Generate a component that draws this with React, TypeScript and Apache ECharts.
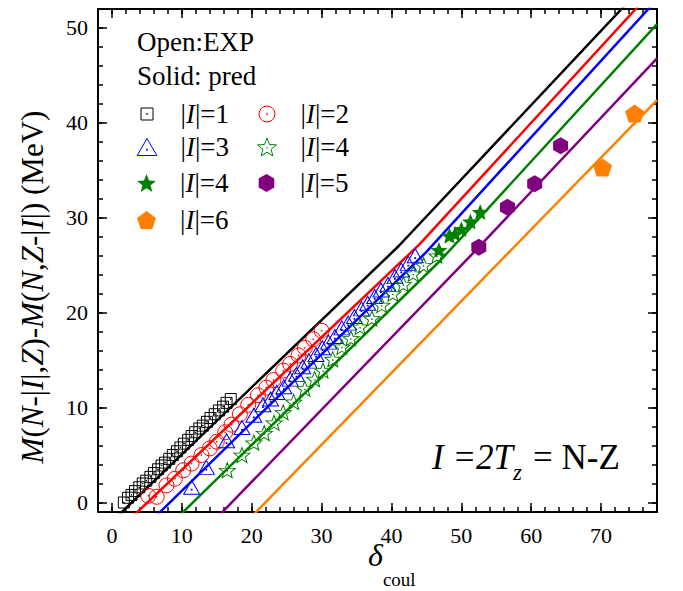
import React, { useEffect, useRef } from "react";
import * as echarts from "echarts";

const FONT = "Liberation Serif";

// axis ranges and ticks
const xRange = [-2, 78];
const yRange = [-1, 52];
const xMajorTicks = [0, 10, 20, 30, 40, 50, 60, 70];
const xMinorTicks = [0, 2, 4, 6, 8, 10, 12, 14, 16, 18, 20, 22, 24, 26, 28, 30, 32, 34, 36, 38, 40, 42, 44, 46, 48, 50, 52, 54, 56, 58, 60, 62, 64, 66, 68, 70, 72, 74, 76];
const yMajorTicks = [0, 10, 20, 30, 40, 50];
const yMinorTicks = [0, 2, 4, 6, 8, 10, 12, 14, 16, 18, 20, 22, 24, 26, 28, 30, 32, 34, 36, 38, 40, 42, 44, 46, 48, 50];

// experimental (open) points [delta_coul, mass difference]
const expI1: [number, number][] = [
  [1.7, 0.0], [2.3, 0.5], [2.8, 0.8], [3.3, 1.2], [3.9, 1.6], [4.4, 2.0], [4.9, 2.3], [5.5, 2.7], [6.0, 3.1], [6.6, 3.5],
  [7.1, 3.9], [7.6, 4.2], [8.2, 4.6], [8.7, 5.0], [9.3, 5.4], [9.8, 5.8], [10.3, 6.2], [10.9, 6.6], [11.4, 7.0], [11.9, 7.4],
  [12.5, 7.8], [13.0, 8.1], [13.6, 8.5], [14.1, 8.9], [14.7, 9.3], [15.3, 9.7], [15.9, 10.1], [16.4, 10.5], [17.0, 10.9],
];
const expI2: [number, number][] = [
  [5.2, 0.7], [6.4, 0.6], [7.8, 1.8], [9.0, 2.5], [10.2, 3.4], [11.4, 4.1], [12.8, 5.0], [14.0, 5.7], [15.0, 6.4], [16.2, 7.4],
  [17.1, 8.2], [18.3, 9.3], [19.5, 10.3], [20.9, 11.3], [22.1, 12.1], [23.1, 12.9], [24.5, 13.9], [25.5, 14.6], [26.7, 15.5],
  [27.6, 16.3], [28.8, 17.2], [30.0, 18.1],
];
const expI3: [number, number][] = [
  [11.4, 1.6], [13.5, 3.7], [16.4, 6.5], [18.6, 7.9], [20.3, 9.2], [21.6, 10.3], [22.7, 10.9], [23.6, 11.6], [24.6, 12.2],
  [25.5, 13.0], [26.4, 13.5], [27.3, 14.3], [28.2, 14.9], [29.2, 15.6], [30.1, 16.3], [31.0, 16.9], [31.9, 17.5], [32.9, 18.4],
  [33.8, 18.9], [34.7, 19.6], [35.7, 20.4], [36.6, 21.0], [37.6, 21.7], [38.5, 22.4], [39.5, 23.0], [40.5, 23.8], [41.4, 24.5],
  [42.4, 25.2], [43.4, 26.0],
];
const expI4: [number, number][] = [
  [16.5, 3.4], [18.6, 5.0], [20.3, 6.3], [21.8, 7.3], [23.2, 8.4], [24.5, 9.5], [26.0, 10.6], [27.6, 12.0], [29.0, 13.0],
  [30.2, 13.9], [31.6, 15.1], [32.9, 16.4], [34.2, 17.3], [35.5, 18.5], [37.2, 19.4], [38.6, 20.8], [40.2, 22.0], [41.7, 23.0],
  [43.1, 24.1], [44.6, 25.0], [46.5, 26.0],
];
// predicted (solid) points
const predI4: [number, number][] = [[46.8, 26.6], [48.3, 28.1], [49.1, 28.3], [50.0, 28.8], [51.3, 29.6], [52.7, 30.6]];
const predI5: [number, number][] = [[52.5, 26.9], [56.6, 31.1], [60.5, 33.6], [64.2, 37.6]];
const predI6: [number, number][] = [[70.2, 35.3], [74.8, 41.0]];

// prediction curves
const lineI1: [number, number][] = [[0.0, -2], [41.0, 27.0], [74.2, 53]];
const lineI2: [number, number][] = [[2.2, -2], [44.0, 27.2], [76.2, 53]];
const lineI3: [number, number][] = [[5.5, -2], [45.0, 26.4], [78.0, 53.0]];
const lineI4: [number, number][] = [[8.8, -2], [47.0, 25.5], [78.0, 50.4]];
const lineI5: [number, number][] = [[14.5, -2], [52.5, 26.9], [78.0, 46.8]];
const lineI6: [number, number][] = [[19.3, -2], [78.0, 42.4]];

const SQUARE = "path://M0,0H10V10H0Z M4.7,4.7H5.3V5.3H4.7Z";
const CIRCLE = "path://M10,5A5,5,0,1,1,0,5A5,5,0,1,1,10,5Z M4.75,4.75H5.25V5.25H4.75Z";
const TRIANGLE = "path://M5,0L10,8.66L0,8.66Z M4.75,5.5H5.25V6H4.75Z";
const STAR_PTS = "M0,-10L2.53,-3.48L9.51,-3.09L4.09,1.33L5.88,8.09L0,4.3L-5.88,8.09L-4.09,1.33L-9.51,-3.09L-2.53,-3.48Z";
const STAR_OPEN = "path://" + STAR_PTS + " M-0.25,-0.25H0.25V0.25H-0.25Z";
const STAR_FILLED = "path://" + STAR_PTS;
const HEXAGON = "path://M0,-10L8.66,-5L8.66,5L0,10L-8.66,5L-8.66,-5Z";
const PENTAGON = "path://M0,-10L9.51,-3.09L5.88,8.09L-5.88,8.09L-9.51,-3.09Z";

const GRID = { left: 98, top: 9, width: 559, height: 503 };

function makeX(gridIndex: number, position: string, ticks: number[], len: number, labels: boolean, line: boolean) {
  return {
    type: "value", gridIndex, position, min: xRange[0], max: xRange[1],
    axisLine: { show: line, onZero: false, lineStyle: { color: "#000", width: 2 } },
    axisTick: { show: true, inside: true, length: len, customValues: ticks, lineStyle: { color: "#000", width: 1.5 } },
    axisLabel: labels
      ? { show: true, customValues: ticks, margin: 12, color: "#000", fontSize: 22, fontFamily: FONT }
      : { show: false },
    splitLine: { show: false },
  };
}
function makeY(gridIndex: number, position: string, ticks: number[], len: number, labels: boolean, line: boolean) {
  return {
    type: "value", gridIndex, position, min: yRange[0], max: yRange[1],
    axisLine: { show: line, onZero: false, lineStyle: { color: "#000", width: 2 } },
    axisTick: { show: true, inside: true, length: len, customValues: ticks, lineStyle: { color: "#000", width: 1.5 } },
    axisLabel: labels
      ? { show: true, customValues: ticks, margin: 10, color: "#000", fontSize: 22, fontFamily: FONT }
      : { show: false },
    splitLine: { show: false },
  };
}

const legendFormatter = (name: string) => {
  const d = (name.match(/\d/) || ["1"])[0];
  return `{n||}{i|I}{n||=${d}}`;
};
const legendText = {
  color: "#000", fontSize: 27, fontFamily: FONT, lineHeight: 30,
  rich: {
    n: { color: "#000", fontSize: 27, fontFamily: FONT, lineHeight: 30 },
    i: { color: "#000", fontSize: 27, fontFamily: FONT, fontStyle: "italic", lineHeight: 30 },
  },
};
// [series name, icon centre x, icon centre y, icon height, icon drawn width, border]
const legendSpec: [string, number, number, number, number, number][] = [
  ["|I|=1", 146.5, 114, 12, 12, 1],
  ["|I|=2", 266.5, 114, 16, 16, 1],
  ["|I|=3", 146.5, 147, 17, 19.6, 1],
  ["|I|=4", 266.5, 147, 18, 18.9, 1],
  ["|I|=4 (pred)", 146.5, 183, 18, 18.9, 0],
  ["|I|=5", 266.5, 183, 18, 15.6, 0],
  ["|I|=6", 146.5, 220, 18, 18.9, 0],
];

function openSeries(name: string, data: [number, number][], symbol: string, size: number | number[], color: string) {
  return {
    type: "scatter", name, data, symbol, symbolSize: size, z: 3,
    itemStyle: { color: "rgba(0,0,0,0)", borderColor: color, borderWidth: 1, opacity: 1 },
  };
}
function solidSeries(name: string, data: [number, number][], symbol: string, size: number | number[], color: string) {
  return {
    type: "scatter", name, data, symbol, symbolSize: size, z: 4,
    itemStyle: { color, borderWidth: 0, opacity: 1 },
  };
}
function lineSeries(name: string, data: [number, number][], color: string) {
  return {
    type: "line", name, data, showSymbol: false, symbol: "none", z: 2, silent: true,
    lineStyle: { color, width: 2.5 }, clip: true,
  };
}

const yTitle =
  "{i|M}{n|(}{i|N}{n|-|}{i|I}{n||,}{i|Z}{n|)-}{i|M}{n|(}{i|N}{n|,}{i|Z}{n|-|}{i|I}{n||) (MeV)}";

const textBase = { fill: "#000", fontFamily: FONT, align: "left", verticalAlign: "middle", textAlign: "left", textVerticalAlign: "middle" };

const option: any = {
  animation: false,
  backgroundColor: "#fff",
  textStyle: { fontFamily: FONT },
  grid: [{ ...GRID }, { ...GRID }],
  xAxis: [
    makeX(0, "bottom", xMajorTicks, 9, true, true),
    makeX(0, "top", xMajorTicks, 9, false, true),
    makeX(1, "bottom", xMinorTicks, 5, false, false),
    makeX(1, "top", xMinorTicks, 5, false, false),
  ],
  yAxis: [
    makeY(0, "left", yMajorTicks, 9, true, true),
    makeY(0, "right", yMajorTicks, 9, false, true),
    makeY(1, "left", yMinorTicks, 5, false, false),
    makeY(1, "right", yMinorTicks, 5, false, false),
  ],
  legend: legendSpec.map(([name, cx, cy, h, w, bw]) => ({
    data: [name],
    left: cx - w / 2,
    top: cy - 15,
    padding: 0,
    itemWidth: 57,
    itemHeight: h,
    selectedMode: false,
    itemStyle: { borderWidth: bw },
    formatter: legendFormatter,
    textStyle: legendText,
  })),
  series: [
    lineSeries("pred |I|=1", lineI1, "#000000"),
    lineSeries("pred |I|=2", lineI2, "#ff0000"),
    lineSeries("pred |I|=3", lineI3, "#0000ff"),
    lineSeries("pred |I|=4", lineI4, "#008000"),
    lineSeries("pred |I|=5", lineI5, "#800080"),
    lineSeries("pred |I|=6", lineI6, "#ff8000"),
    openSeries("|I|=1", expI1, SQUARE, 11, "#000000"),
    openSeries("|I|=2", expI2, CIRCLE, 15, "#ff0000"),
    openSeries("|I|=3", expI3, TRIANGLE, [16, 14], "#0000ff"),
    openSeries("|I|=4", expI4, STAR_OPEN, [16, 15], "#008000"),
    solidSeries("|I|=4 (pred)", predI4, STAR_FILLED, [17, 16], "#008000"),
    solidSeries("|I|=5", predI5, HEXAGON, [15, 17], "#800080"),
    solidSeries("|I|=6", predI6, PENTAGON, [19, 18], "#ff8000"),
  ],
  graphic: [
    { type: "text", x: 137, y: 42, style: { ...textBase, text: "Open:EXP", fontSize: 27 } },
    { type: "text", x: 137, y: 76, style: { ...textBase, text: "Solid: pred", fontSize: 27 } },
    { type: "text", x: 432, y: 457, style: { ...textBase, text: "I =2T", fontSize: 35, fontStyle: "italic" } },
    { type: "text", x: 513, y: 472, style: { ...textBase, text: "z", fontSize: 23, fontStyle: "italic" } },
    { type: "text", x: 533, y: 457, style: { ...textBase, text: "= N-Z", fontSize: 35 } },
    {
      type: "text", x: 368, y: 539,
      style: {
        text: "{d|δ}{c|coul}",
        fill: "#000", fontSize: 32, fontFamily: FONT,
        align: "left", verticalAlign: "top", textAlign: "left", textVerticalAlign: "top",
        rich: {
          d: { fontSize: 32, fontFamily: FONT, fontStyle: "italic", lineHeight: 36, verticalAlign: "top", fill: "#000" },
          c: { fontSize: 19, fontFamily: FONT, lineHeight: 19, padding: [31, 0, 0, 0], verticalAlign: "top", fill: "#000" },
        },
      },
    },
    {
      type: "text", x: 32, y: 287, rotation: Math.PI / 2,
      style: {
        text: yTitle,
        fill: "#000", fontSize: 31, fontFamily: FONT,
        align: "center", verticalAlign: "middle", textAlign: "center", textVerticalAlign: "middle",
        rich: {
          n: { fontSize: 31, fontFamily: FONT, fill: "#000" },
          i: { fontSize: 31, fontFamily: FONT, fontStyle: "italic", fill: "#000" },
        },
      },
    },
  ],
};

export default function App() {
  const ref = useRef<HTMLDivElement>(null);
  useEffect(() => {
    if (!ref.current) return;
    const chart = echarts.init(ref.current, undefined, { renderer: "svg" });
    chart.setOption(option);
    return () => chart.dispose();
  }, []);
  return (
    <div
      ref={ref}
      style={{ position: "absolute", left: 0, top: 0, width: 683, height: 591, background: "#fff" }}
    />
  );
}
